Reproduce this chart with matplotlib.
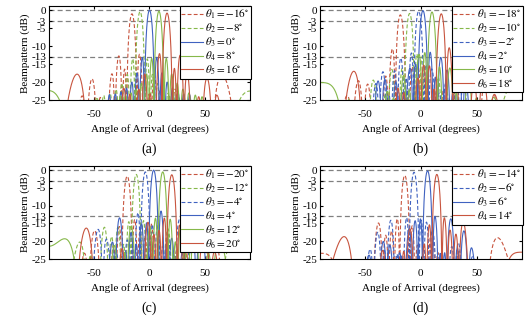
import numpy as np
import matplotlib
matplotlib.use("Agg")
import matplotlib.pyplot as plt

plt.rcParams["font.family"] = "Liberation Serif"
plt.rcParams["mathtext.fontset"] = "stix"
plt.rcParams["axes.unicode_minus"] = False
plt.rcParams["font.size"] = 8

# array model (null width ~4.5 deg, extra lobe at du ~ -1.17)
n_elem = 15
spacing = 0.85  # wavelengths
phase_bits = 3

# steering angles (deg), peak level (dB), level of the far lobe (dB) for each panel
angles_a = [-16, -8, 0, 8, 16]
peaks_a = [-1.0, -0.4, 0.0, -0.3, -0.8]
far_a = [-17, -20, -20, -20, -17]

angles_b = [-18, -10, -2, 2, 10, 18]
peaks_b = [-1.3, -0.9, -0.3, -0.1, -0.5, -1.0]
far_b = [-16, -19.6, -20, -20, -19.6, -16]

angles_c = [-20, -12, -4, 4, 12, 20]
peaks_c = [-1.7, -1.2, -0.5, 0.0, -0.5, -1.3]
far_c = [-15, -18.8, -20, -20, -18.8, -15]

angles_d = [-14, -6, 6, 14]
peaks_d = [-1.5, -0.6, -0.2, -1.2]
far_d = [-17.5, -20, -20, -17.5]

red = "#C8553F"
green = "#86B84A"
blue = "#4062C0"
color_of = {0: blue, 2: blue, 4: blue, 6: blue, 8: green, 10: green, 12: green,
            14: red, 16: red, 18: red, 20: red}

theta = np.linspace(-90, 90, 4001)


def beampattern(t0, peak, far):
    u = np.sin(np.radians(theta))
    u0 = np.sin(np.radians(t0))
    n = np.arange(n_elem) - (n_elem - 1) / 2
    step = 2 * np.pi / 2 ** phase_bits
    w = np.round(-2 * np.pi * spacing * n * u0 / step) * step
    af = np.abs(np.exp(1j * (2 * np.pi * spacing * np.outer(u, n) + w)).sum(axis=1))
    af = af / af.max()
    db = 20 * np.log10(np.maximum(af, 1e-4)) + peak
    # the far (grating) lobe is lower than the main one
    s = spacing * (u - u0)
    order = np.round(s)
    r = np.abs(s - order)
    gain = np.clip((0.5 - r) / 0.4, 0, 1)
    return np.where(order != 0, db + far * gain, db)


def draw(ax, angles, peaks, fars, tag):
    for k, (t0, pk, fr) in enumerate(zip(angles, peaks, fars)):
        sign = "-" if t0 < 0 else ""
        line, = ax.plot(theta, beampattern(t0, pk, fr), color=color_of[abs(t0)], lw=0.8,
                        label=r"$\theta_{%d} = %s%d^{\circ}$" % (k + 1, sign, abs(t0)))
        if t0 < 0:
            line.set_dashes((3.5, 2))
    for lev in (0, -3, -13):
        ax.axhline(lev, color="#808080", lw=0.9, dashes=(4, 2.5), zorder=0.5)
    ax.set_xlim(-90, 90)
    ax.set_ylim(-25, 1.2)
    ax.set_xticks([-50, 0, 50])
    ax.set_yticks([0, -3, -5, -10, -13, -15, -20, -25])
    ax.tick_params(direction="in", length=2.5, top=True, right=True, labelsize=8)
    ax.tick_params(axis="x", pad=7.5)
    ax.tick_params(axis="y", pad=2)
    ax.set_xlabel("Angle of Arrival (degrees)", labelpad=3)
    ax.set_ylabel("Beampattern (dB)", labelpad=1)
    leg = ax.legend(loc="upper right", bbox_to_anchor=(1.005, 1.0), borderaxespad=0,
                    fancybox=False, framealpha=1, edgecolor="black", fontsize=8,
                    handlelength=1.9, handletextpad=0.25, labelspacing=0.04,
                    borderpad=0.15)
    leg.get_frame().set_linewidth(0.8)
    pos = ax.get_position()
    ax.figure.text((pos.x0 + pos.x1) / 2, pos.y0 - 0.155, tag, ha="center",
                   va="center", fontsize=10)


fig = plt.figure(figsize=(5.26, 3.2), dpi=100)
ax_a = fig.add_axes([0.0932, 0.6875, 0.382, 0.294])
ax_b = fig.add_axes([0.608, 0.6875, 0.384, 0.294])
ax_c = fig.add_axes([0.0932, 0.1906, 0.382, 0.291])
ax_d = fig.add_axes([0.608, 0.1906, 0.384, 0.291])

draw(ax_a, angles_a, peaks_a, far_a, "(a)")
draw(ax_b, angles_b, peaks_b, far_b, "(b)")
draw(ax_c, angles_c, peaks_c, far_c, "(c)")
draw(ax_d, angles_d, peaks_d, far_d, "(d)")

fig.savefig("out.png", dpi=100)
